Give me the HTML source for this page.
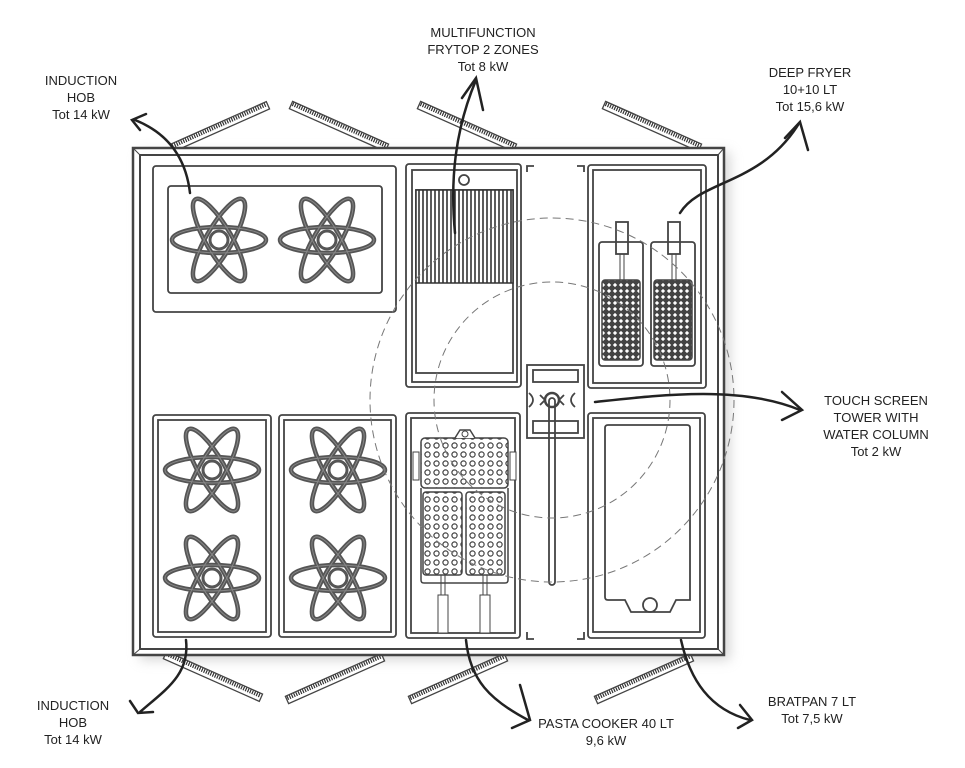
<!DOCTYPE html>
<html><head><meta charset="utf-8"><style>
html,body{margin:0;padding:0;background:#fff;}
svg{display:block}
text{font-family:"Liberation Sans",sans-serif;font-size:13px;fill:#222;text-anchor:middle}
</style></head><body>
<svg width="965" height="768" viewBox="0 0 965 768" xmlns="http://www.w3.org/2000/svg">
<defs>
<filter id="sh" x="-20%" y="-20%" width="140%" height="140%"><feGaussianBlur stdDeviation="6"/></filter>
<pattern id="holes" width="9" height="9" patternUnits="userSpaceOnUse">
<circle cx="4.5" cy="4.5" r="2.6" fill="none" stroke="#444" stroke-width="1.2"/>
</pattern>
<pattern id="mesh" width="6" height="6" patternUnits="userSpaceOnUse">
<rect width="6" height="6" fill="#444"/><rect x="1.5" y="1.5" width="3" height="3" fill="#fff" transform="rotate(45 3 3)"/>
</pattern>
<g id="burner" fill="none" stroke="#555" stroke-width="4.5">
<ellipse rx="47" ry="13"/>
<ellipse rx="47" ry="13" transform="rotate(60)"/>
<ellipse rx="47" ry="13" transform="rotate(120)"/>
<circle r="9" stroke-width="3"/>
<g stroke="#888" stroke-width="1">
<ellipse rx="47" ry="13"/>
<ellipse rx="47" ry="13" transform="rotate(60)"/>
<ellipse rx="47" ry="13" transform="rotate(120)"/>
</g>
</g>
<g id="leg">
<rect x="0" y="-4" width="105" height="8" fill="#fff" stroke="#444" stroke-width="1.3"/>
<line x1="1" y1="-1.5" x2="104" y2="-1.5" stroke="#333" stroke-width="4" stroke-dasharray="1.2 1.2"/>
</g>
</defs>

<rect x="140" y="152" width="590" height="508" fill="#bbb" filter="url(#sh)" opacity="0.6"/>

<g transform="translate(172,148) rotate(-24)"><use href="#leg"/></g>
<g transform="translate(291,105) rotate(24)"><use href="#leg"/></g>
<g transform="translate(419,105) rotate(24)"><use href="#leg"/></g>
<g transform="translate(604,105) rotate(24)"><use href="#leg"/></g>
<g transform="translate(165,655) rotate(24)"><use href="#leg"/></g>
<g transform="translate(287,700) rotate(-24)"><use href="#leg"/></g>
<g transform="translate(410,700) rotate(-24)"><use href="#leg"/></g>
<g transform="translate(596,700) rotate(-24)"><use href="#leg"/></g>

<rect x="133" y="148" width="591" height="507" fill="#fff" stroke="#444" stroke-width="2.5"/>
<rect x="140" y="155" width="578" height="494" fill="#fff" stroke="#444" stroke-width="2"/>
<line x1="133" y1="148" x2="140" y2="155" stroke="#444"/>
<line x1="724" y1="148" x2="718" y2="155" stroke="#444"/>
<line x1="724" y1="655" x2="718" y2="649" stroke="#444"/>
<line x1="133" y1="655" x2="140" y2="649" stroke="#444"/>

<g fill="none" stroke="#444" stroke-width="1.8">
<rect x="153" y="166" width="243" height="146" rx="3"/>
<rect x="168" y="186" width="214" height="107" rx="3"/>
<rect x="406" y="164" width="115" height="223" rx="3"/>
<rect x="412" y="170" width="105" height="212"/>
<rect x="416" y="190" width="97" height="183"/>
<circle cx="464" cy="180" r="5"/>
<rect x="588" y="165" width="118" height="223" rx="3"/>
<rect x="593" y="170" width="108" height="213"/>
<rect x="599" y="242" width="44" height="124" rx="3"/>
<rect x="651" y="242" width="44" height="124" rx="3"/>
<rect x="616" y="222" width="12" height="32"/>
<rect x="668" y="222" width="12" height="32"/>
<rect x="153" y="415" width="118" height="222" rx="3"/>
<rect x="158" y="420" width="108" height="212"/>
<rect x="279" y="415" width="117" height="222" rx="3"/>
<rect x="284" y="420" width="107" height="212"/>
<rect x="406" y="413" width="114" height="225" rx="3"/>
<rect x="411" y="418" width="104" height="215"/>
<rect x="588" y="413" width="117" height="225" rx="3"/>
<rect x="593" y="418" width="107" height="214"/>
<path d="M605 428 Q605 425 608 425 L687 425 Q690 425 690 428 L690 600 L676 600 L670 612 L631 612 L625 600 L608 600 Q605 600 605 597 Z"/>
<circle cx="650" cy="605" r="7"/>
<rect x="527" y="365" width="57" height="73"/>
<rect x="533" y="370" width="45" height="12"/>
<rect x="533" y="421" width="45" height="12"/>
<rect x="549" y="398" width="6" height="187" rx="3"/>
<circle cx="552" cy="400" r="7" stroke-width="2.5"/>
<path d="M529 393 Q537 400 529 407 M575 393 Q567 400 575 407 M540 395 L545 400 L540 405 M564 395 L559 400 L564 405"/>
<path d="M527 172 V166 H534 M584 172 V166 H577 M527 632 V639 H534 M584 632 V639 H577"/>
</g>

<rect x="416" y="190" width="97" height="93" fill="#fff" stroke="#333" stroke-width="1.5"/>
<g stroke="#333" stroke-width="1.6">
<path d="M419 190V283M423 190V283M427 190V283M431 190V283M435 190V283M439 190V283M443 190V283M447 190V283M451 190V283M455 190V283M459 190V283M463 190V283M467 190V283M471 190V283M475 190V283M479 190V283M483 190V283M487 190V283M491 190V283M495 190V283M499 190V283M503 190V283M507 190V283M511 190V283"/>
</g>

<rect x="602" y="280" width="38" height="80" rx="3" fill="url(#mesh)" stroke="#444" stroke-width="1.5"/>
<rect x="654" y="280" width="38" height="80" rx="3" fill="url(#mesh)" stroke="#444" stroke-width="1.5"/>
<path d="M620 254V280M624 254V280M672 254V280M676 254V280" stroke="#444"/>

<rect x="421" y="438" width="87" height="50" rx="4" fill="url(#holes)" stroke="#444" stroke-width="1.5"/>
<rect x="423" y="492" width="39" height="83" rx="3" fill="url(#holes)" stroke="#444" stroke-width="1.5"/>
<rect x="466" y="492" width="39" height="83" rx="3" fill="url(#holes)" stroke="#444" stroke-width="1.5"/>
<path d="M421 488 V580 Q421 583 424 583 H505 Q508 583 508 580 V488" fill="none" stroke="#444" stroke-width="1.5"/>
<path d="M455 438 L460 430 H470 L475 438" fill="#fff" stroke="#444" stroke-width="1.5"/>
<circle cx="465" cy="434" r="3" fill="none" stroke="#444"/>
<rect x="413" y="452" width="6" height="28" fill="#fff" stroke="#444"/>
<rect x="510" y="452" width="6" height="28" fill="#fff" stroke="#444"/>
<path d="M441 575V595M445 575V595M483 575V595M487 575V595" stroke="#444"/>
<rect x="438" y="595" width="10" height="38" fill="#fff" stroke="#444"/>
<rect x="480" y="595" width="10" height="38" fill="#fff" stroke="#444"/>

<use href="#burner" x="219" y="240"/>
<use href="#burner" x="327" y="240"/>
<use href="#burner" x="212" y="470"/>
<use href="#burner" x="212" y="578"/>
<use href="#burner" x="338" y="470"/>
<use href="#burner" x="338" y="578"/>

<g fill="none" stroke="#777" stroke-width="1" stroke-dasharray="8 5">
<circle cx="552" cy="400" r="182"/>
<circle cx="552" cy="400" r="118"/>
</g>

<g fill="none" stroke="#222" stroke-width="2.5" stroke-linecap="round">
<path d="M190 193 C185 150 160 130 135 120"/>
<path d="M146 114 L132 120 L140 130"/>
<path d="M455 233 C450 180 455 130 476 80"/>
<path d="M462 98 L476 78 L483 110"/>
<path d="M680 213 C700 180 760 185 798 125"/>
<path d="M785 138 L800 122 L808 150"/>
<path d="M595 402 C660 395 740 385 800 410"/>
<path d="M782 392 L802 410 L782 420"/>
<path d="M186 640 C190 675 165 690 140 712"/>
<path d="M130 701 L138 713 L153 712"/>
<path d="M466 640 C470 680 490 700 528 720"/>
<path d="M520 685 L530 720 L512 728"/>
<path d="M681 640 C690 680 710 710 750 720"/>
<path d="M740 705 L752 720 L738 728"/>
</g>

<text x="81" y="85">INDUCTION</text>
<text x="81" y="102">HOB</text>
<text x="81" y="119">Tot 14 kW</text>
<text x="483" y="37">MULTIFUNCTION</text>
<text x="483" y="54">FRYTOP 2 ZONES</text>
<text x="483" y="71">Tot 8 kW</text>
<text x="810" y="77">DEEP FRYER</text>
<text x="810" y="94">10+10  LT</text>
<text x="810" y="111">Tot 15,6 kW</text>
<text x="876" y="405">TOUCH SCREEN</text>
<text x="876" y="422">TOWER WITH</text>
<text x="876" y="439">WATER COLUMN</text>
<text x="876" y="456">Tot 2 kW</text>
<text x="73" y="710">INDUCTION</text>
<text x="73" y="727">HOB</text>
<text x="73" y="744">Tot 14 kW</text>
<text x="606" y="728">PASTA COOKER 40 LT</text>
<text x="606" y="745">9,6 kW</text>
<text x="812" y="706">BRATPAN 7 LT</text>
<text x="812" y="723">Tot 7,5 kW</text>
</svg>
</body></html>
